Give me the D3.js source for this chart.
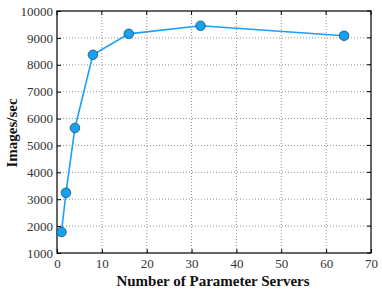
<!DOCTYPE html>
<html><head><meta charset="utf-8">
<script src="https://cdn.jsdelivr.net/npm/d3@7"></script>
<style>body{margin:0;background:#fff}svg{display:block}</style>
</head><body>
<svg id="c" width="382" height="292"></svg>
<script>
const servers = [1, 2, 4, 8, 16, 32, 64];
const imagesPerSec = [1780, 3240, 5650, 8370, 9150, 9450, 9080];
const xTicks = [0, 10, 20, 30, 40, 50, 60, 70];
const yTicks = [1000, 2000, 3000, 4000, 5000, 6000, 7000, 8000, 9000, 10000];
const xLabel = "Number of Parameter Servers";
const yLabel = "Images/sec";

const svg = d3.select("#c");
const L = 57, R = 371, T = 11, B = 253;
const x = d3.scaleLinear().domain([0, 70]).range([L, R]);
const y = d3.scaleLinear().domain([1000, 10000]).range([B, T]);
const font = "'Liberation Serif', 'DejaVu Serif', serif";

// grid
const g = svg.append("g");
g.selectAll(".gx").data(xTicks.slice(1, -1)).enter().append("line")
  .attr("x1", d => x(d)).attr("x2", d => x(d)).attr("y1", T).attr("y2", B)
  .attr("stroke", "#777").attr("stroke-width", 0.8).attr("stroke-dasharray", "1,2");
g.selectAll(".gy").data(yTicks.slice(1, -1)).enter().append("line")
  .attr("y1", d => y(d)).attr("y2", d => y(d)).attr("x1", L).attr("x2", R)
  .attr("stroke", "#777").attr("stroke-width", 0.8).attr("stroke-dasharray", "1,2");

// axes via d3
const xa = svg.append("g").attr("transform", `translate(0,${B})`)
  .call(d3.axisBottom(x).tickValues(xTicks).tickSize(-4).tickPadding(6).tickFormat(d3.format("d")));
const ya = svg.append("g").attr("transform", `translate(${L},0)`)
  .call(d3.axisLeft(y).tickValues(yTicks).tickSize(-4).tickPadding(4).tickFormat(d3.format("d")));
[xa, ya].forEach(a => {
  a.select(".domain").remove();
  a.selectAll("text").attr("font-family", font).attr("font-size", 13).attr("fill", "#333");
  a.selectAll("line").attr("stroke", "#000");
});
// top/right inner ticks
svg.append("g").selectAll("line").data(xTicks).enter().append("line")
  .attr("x1", d => x(d)).attr("x2", d => x(d)).attr("y1", T).attr("y2", T + 4).attr("stroke", "#000");
svg.append("g").selectAll("line").data(yTicks).enter().append("line")
  .attr("y1", d => y(d)).attr("y2", d => y(d)).attr("x1", R).attr("x2", R - 4).attr("stroke", "#000");

// frame
svg.append("rect").attr("x", L).attr("y", T).attr("width", R - L).attr("height", B - T)
  .attr("fill", "none").attr("stroke", "#000").attr("stroke-width", 1.2);

// line
const data = servers.map((s, i) => ({s, v: imagesPerSec[i]}));
svg.append("path").datum(data)
  .attr("d", d3.line().x(d => x(d.s)).y(d => y(d.v)))
  .attr("fill", "none").attr("stroke", "#1a9fff").attr("stroke-width", 1.6);
svg.append("g").selectAll("circle").data(data).enter().append("circle")
  .attr("cx", d => x(d.s)).attr("cy", d => y(d.v)).attr("r", 4.8)
  .attr("fill", "#1aa0f0").attr("stroke", "#14506e").attr("stroke-width", 0.8);

// labels
svg.append("text").attr("x", 213).attr("y", 286).attr("text-anchor", "middle")
  .attr("font-family", font).attr("font-size", 15).attr("font-weight", "bold").attr("fill", "#111").text(xLabel);
svg.append("text").attr("transform", `translate(17,133) rotate(-90)`).attr("text-anchor", "middle")
  .attr("font-family", font).attr("font-size", 15).attr("font-weight", "bold").attr("fill", "#111").text(yLabel);
</script>
</body></html>
